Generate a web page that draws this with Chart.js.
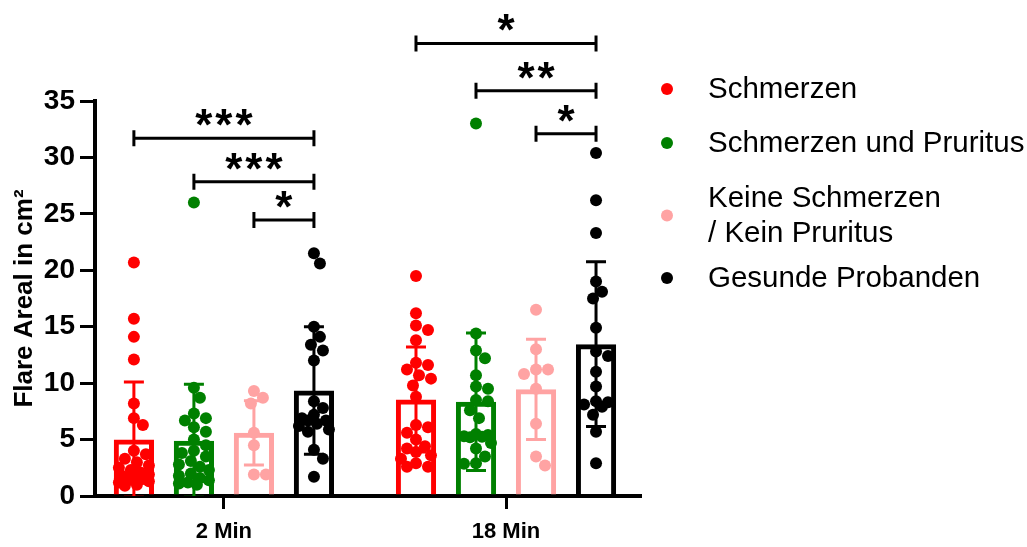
<!DOCTYPE html>
<html lang="de">
<head>
  <meta charset="UTF-8">
  <title>Flare Areal</title>
  <script src="https://cdn.jsdelivr.net/npm/chart.js"></script>
  <style>
    body { margin: 0; background: #fff; }
    canvas { display: block; }
  </style>
</head>
<body>
  <canvas id="flareChart" width="1027" height="547" style="width: 1027px; height: 547px;"></canvas>

  <script>
    // Zeitpunkte (x-Achse) und Gruppen
    const zeitpunkte = ['2 Min', '18 Min'];
    const gruppen = ['Schmerzen', 'Schmerzen und Pruritus', 'Keine Schmerzen / Kein Pruritus', 'Gesunde Probanden'];
    const legendenZeilen = [['Schmerzen'], ['Schmerzen und Pruritus'], ['Keine Schmerzen', '/ Kein Pruritus'], ['Gesunde Probanden']];
    const farben = ['#ff0000', '#008000', '#ffa3a3', '#000000'];

    // Mittelwerte und SD je Gruppe [2 Min, 18 Min]
    const mwSchmerzen = [5.0, 8.55];
    const sdSchmerzen = [5.1, 4.65];
    const mwPruritus = [4.9, 8.35];
    const sdPruritus = [5.0, 6.1];
    const mwKeine = [5.6, 9.45];
    const sdKeine = [2.85, 4.45];
    const mwGesund = [9.35, 13.45];
    const sdGesund = [5.65, 7.3];

    // Einzelwerte (cm²)
    const schmerzen2 = [20.7, 15.7, 14.1, 12.1, 8.2, 6.9, 6.3, 4.0, 3.7, 3.3, 3.0, 2.7, 2.5, 2.3, 2.1, 1.9, 1.8, 1.6, 1.5, 1.4, 1.3, 1.2, 1.0, 0.9];
    const schmerzen18 = [19.5, 16.2, 15.1, 14.7, 13.8, 11.8, 11.6, 11.2, 10.7, 10.4, 9.8, 8.8, 6.3, 6.1, 5.6, 5.0, 4.4, 4.2, 3.9, 3.6, 3.3, 2.9, 2.6, 2.6];
    const pruritus2 = [26.0, 9.6, 8.7, 7.3, 6.9, 6.7, 6.1, 5.7, 5.0, 4.5, 4.0, 3.8, 3.5, 3.1, 2.8, 2.6, 2.3, 2.0, 1.8, 1.6, 1.4, 1.2, 1.1, 1.0];
    const pruritus18 = [33.0, 14.4, 12.9, 12.2, 10.7, 9.7, 9.5, 8.5, 8.4, 7.6, 6.9, 5.5, 5.4, 5.3, 5.25, 5.2, 4.7, 4.2, 3.5, 2.9, 2.85];
    const keine2 = [9.3, 8.7, 8.2, 5.6, 4.5, 1.9, 1.9];
    const keine18 = [16.5, 13.0, 11.2, 11.2, 10.8, 9.5, 6.4, 3.5, 2.7];
    const gesund2 = [21.5, 20.6, 15.0, 14.1, 13.4, 12.9, 12.0, 8.4, 7.8, 7.2, 6.9, 6.7, 6.7, 6.4, 6.2, 5.9, 5.7, 4.1, 3.3, 1.7];
    const gesund18 = [30.4, 26.2, 23.3, 19.0, 18.1, 17.5, 14.9, 12.8, 12.4, 11.0, 9.7, 8.4, 8.3, 8.1, 7.9, 7.2, 5.7, 2.9];

    // Signifikanzen: Zeitpunkt, von Gruppe, bis Gruppe, Hoehe, Text
    const sigZeit = [0, 0, 0, 1, 1, 1];
    const sigVon = [0, 1, 2, 0, 1, 2];
    const sigBis = [3, 3, 3, 3, 3, 3];
    const sigHoehe = [31.7, 27.85, 24.45, 40.1, 35.9, 32.1];
    const sigText = ['***', '***', '*', '*', '**', '*'];

    const mittelwerte = [mwSchmerzen, mwPruritus, mwKeine, mwGesund];
    const abweichungen = [sdSchmerzen, sdPruritus, sdKeine, sdGesund];
    const einzelwerte = [[schmerzen2, schmerzen18], [pruritus2, pruritus18], [keine2, keine18], [gesund2, gesund18]];

    const schrift = '"Liberation Sans", Arial, sans-serif';

    // Fehlerbalken (Mittelwert +/- SD) direkt nach jedem Balken-Datensatz
    const fehlerbalken = {
      id: 'fehlerbalken',
      afterDatasetDraw(chart, args) {
        if (args.meta.type !== 'bar') return;
        const g = args.index;
        const ys = chart.scales.y;
        const area = chart.chartArea;
        const ctx = chart.ctx;
        ctx.save();
        ctx.beginPath();
        ctx.rect(area.left, area.top, area.right - area.left, area.bottom - area.top);
        ctx.clip();
        ctx.strokeStyle = farben[g];
        ctx.lineWidth = 3;
        args.meta.data.forEach((bar, z) => {
          const oben = ys.getPixelForValue(mittelwerte[g][z] + abweichungen[g][z]);
          const unten = ys.getPixelForValue(mittelwerte[g][z] - abweichungen[g][z]);
          ctx.beginPath();
          ctx.moveTo(bar.x, oben); ctx.lineTo(bar.x, unten);
          ctx.moveTo(bar.x - 10, oben); ctx.lineTo(bar.x + 10, oben);
          ctx.moveTo(bar.x - 10, unten); ctx.lineTo(bar.x + 10, unten);
          ctx.stroke();
        });
        ctx.restore();
      }
    };

    // Signifikanzklammern und Legende
    const beschriftung = {
      id: 'beschriftung',
      afterDraw(chart) {
        const ctx = chart.ctx;
        const ys = chart.scales.y;
        ctx.save();
        ctx.strokeStyle = '#000';
        ctx.fillStyle = '#000';
        ctx.lineWidth = 3;
        sigZeit.forEach((z, i) => {
          const x1 = chart.getDatasetMeta(sigVon[i]).data[z].x;
          const x2 = chart.getDatasetMeta(sigBis[i]).data[z].x;
          const y = ys.getPixelForValue(sigHoehe[i]);
          ctx.beginPath();
          ctx.moveTo(x1, y); ctx.lineTo(x2, y);
          ctx.moveTo(x1, y - 8); ctx.lineTo(x1, y + 8);
          ctx.moveTo(x2, y - 8); ctx.lineTo(x2, y + 8);
          ctx.stroke();
          ctx.font = 'bold 44px ' + schrift;
          ctx.letterSpacing = '3px';
          ctx.textAlign = 'center';
          ctx.textBaseline = 'alphabetic';
          ctx.fillText(sigText[i], (x1 + x2) / 2 + 1.5, y + 2);
        });

        const zeilenY = [[89], [143], [198, 233], [278]];
        ctx.letterSpacing = '0px';
        ctx.font = '29.5px ' + schrift;
        ctx.textAlign = 'left';
        ctx.textBaseline = 'middle';
        legendenZeilen.forEach((zeilen, i) => {
          const ys2 = zeilenY[i];
          const mitte = (ys2[0] + ys2[ys2.length - 1]) / 2;
          ctx.fillStyle = farben[i];
          ctx.beginPath();
          ctx.arc(667, mitte, 6, 0, Math.PI * 2);
          ctx.fill();
          ctx.fillStyle = '#000';
          zeilen.forEach((t, k) => ctx.fillText(t, 708, ys2[k] + 1));
        });
        ctx.restore();
      }
    };

    const balken = gruppen.map((name, g) => ({
      type: 'bar',
      label: name,
      data: zeitpunkte.map((_, z) => ({ x: z, y: mittelwerte[g][z] })),
      backgroundColor: 'rgba(255,255,255,0)',
      borderColor: farben[g],
      borderWidth: 5,
      borderSkipped: 'start',
      barPercentage: 0.67,
      categoryPercentage: 0.851,
      order: 2
    }));

    const punkte = gruppen.map((name, g) => ({
      type: 'scatter',
      label: name + ' Werte',
      data: [],
      backgroundColor: farben[g],
      borderWidth: 0,
      pointRadius: 6,
      pointHoverRadius: 6,
      order: 1
    }));

    const ctx = document.getElementById('flareChart').getContext('2d');
    const chart = new Chart(ctx, {
      type: 'bar',
      data: { datasets: [...balken, ...punkte] },
      options: {
        responsive: false,
        animation: false,
        events: [],
        layout: { padding: { top: 101, right: 387, bottom: 0, left: 0 } },
        plugins: {
          legend: { display: false },
          tooltip: { enabled: false }
        },
        scales: {
          x: {
            type: 'linear',
            offset: false,
            min: -0.457,
            max: 1.475,
            afterBuildTicks: (scale) => { scale.ticks = zeitpunkte.map((_, z) => ({ value: z })); },
            afterFit: (scale) => { scale.height = 51; },
            grid: { offset: false, drawOnChartArea: false, drawTicks: true, tickLength: 13, lineWidth: 3, color: '#000' },
            border: { display: true, width: 4, color: '#000' },
            ticks: {
              color: '#000',
              padding: 10,
              font: { family: schrift, size: 22, weight: 'bold' },
              callback: (v) => zeitpunkte[v]
            }
          },
          y: {
            min: 0,
            max: 35,
            afterFit: (scale) => { scale.width = 95; },
            grid: { drawOnChartArea: false, drawTicks: true, tickLength: 15, lineWidth: 3, color: '#000' },
            border: { display: true, width: 4, color: '#000' },
            ticks: {
              stepSize: 5,
              color: '#000',
              padding: 5,
              font: { family: schrift, size: 28, weight: 'bold' }
            },
            title: {
              display: true,
              text: 'Flare Areal in cm²',
              color: '#000',
              padding: { top: 9, bottom: 0 },
              font: { family: schrift, size: 26, weight: 'bold' }
            }
          }
        }
      },
      plugins: [fehlerbalken, beschriftung]
    });

    // Punkte wie ein Bienenschwarm um die Balkenmitte verteilen
    function schwarm(pys, abstand, schritt, maxVersatz) {
      const versatz = [];
      pys.forEach((py, i) => {
        let best = 0, bestWert = -1;
        for (let k = 0; k * schritt / 2 <= maxVersatz + schritt; k++) {
          const dx = (k % 2 ? 1 : -1) * Math.ceil(k / 2) * schritt;
          if (Math.abs(dx) > maxVersatz) continue;
          let dmin = Infinity;
          for (let j = 0; j < i; j++) dmin = Math.min(dmin, Math.hypot(dx - versatz[j], py - pys[j]));
          if (dmin >= abstand) { best = dx; break; }
          if (dmin > bestWert) { bestWert = dmin; best = dx; }
        }
        versatz.push(best);
      });
      return versatz;
    }

    const xs = chart.scales.x;
    const ys = chart.scales.y;
    gruppen.forEach((_, g) => {
      const daten = [];
      zeitpunkte.forEach((_, z) => {
        const mitte = chart.getDatasetMeta(g).data[z].x;
        const werte = einzelwerte[g][z];
        const versatz = schwarm(werte.map(v => ys.getPixelForValue(v)), 11, 3, 16);
        werte.forEach((v, k) => daten.push({ x: xs.getValueForPixel(mitte + versatz[k]), y: v }));
      });
      chart.data.datasets[gruppen.length + g].data = daten;
    });
    chart.update('none');
  </script>
</body>
</html>
